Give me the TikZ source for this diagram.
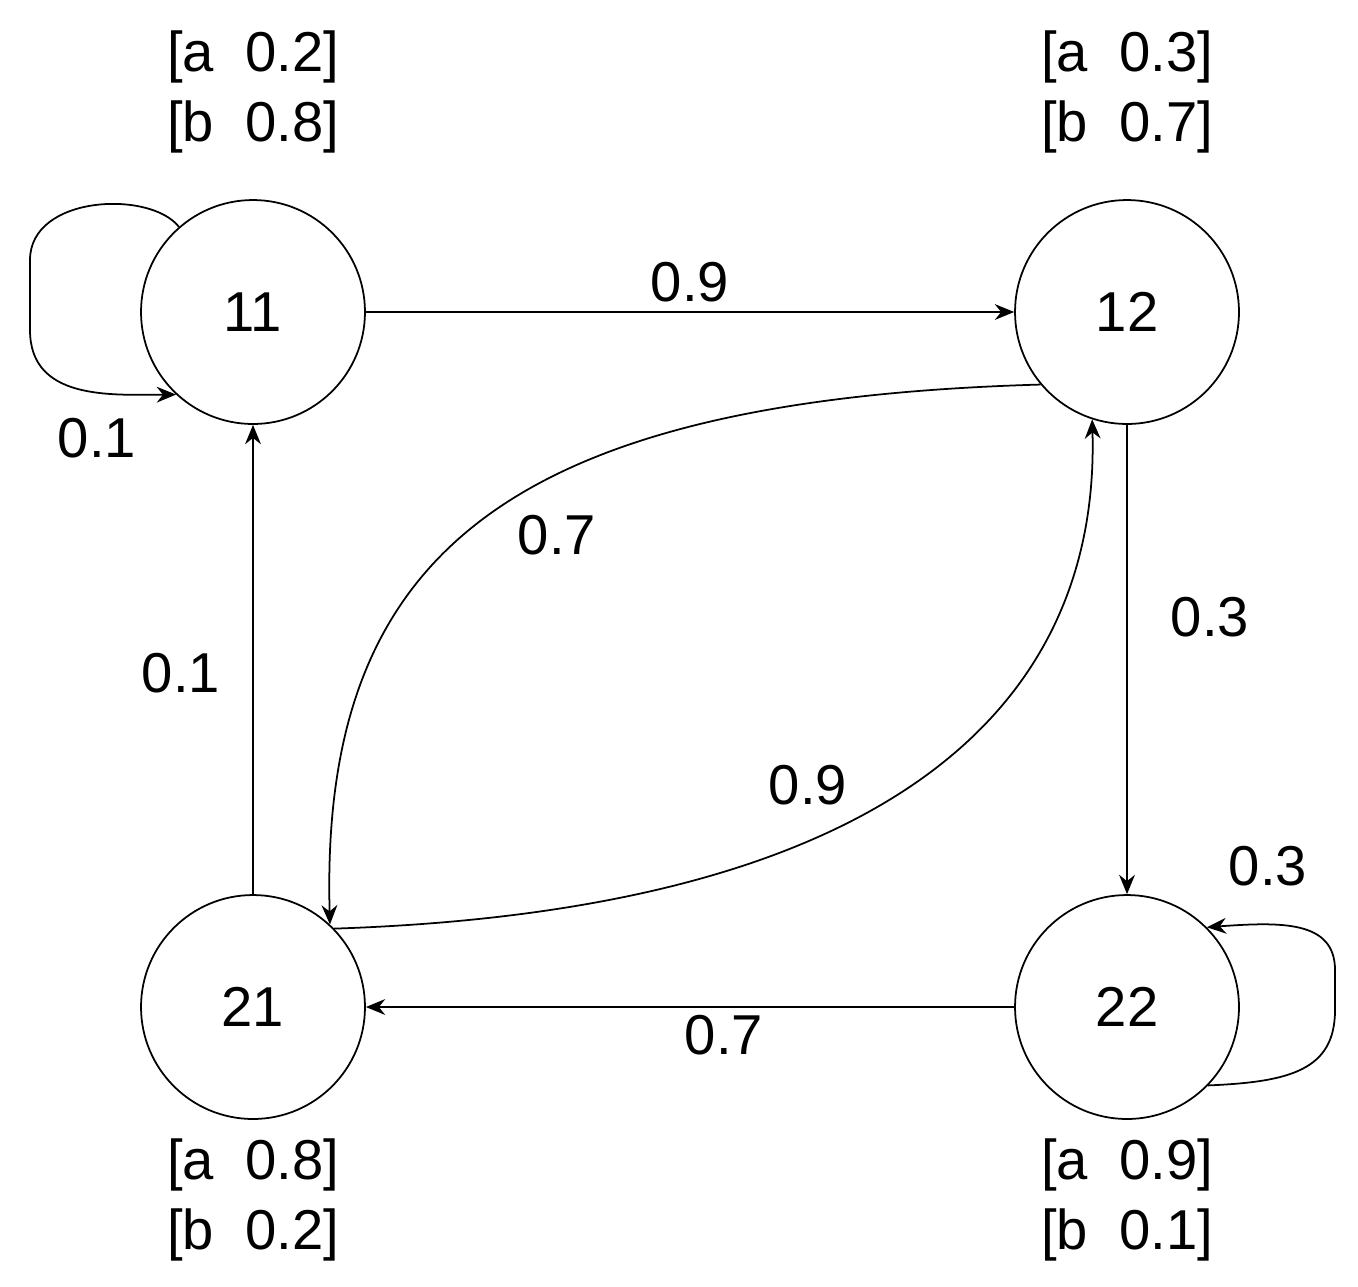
\documentclass[tikz,border=0pt]{standalone}
\usepackage{fontspec}
\setmainfont{Liberation Sans}
\usetikzlibrary{arrows.meta}
\begin{document}
\begin{tikzpicture}[x=0.02cm,y=-0.02cm,
  st/.style={circle,draw,line width=1pt,minimum size=4.48cm,inner sep=0pt,font=\fontsize{32}{36}\selectfont},
  lb/.style={font=\fontsize{32}{36}\selectfont},
  ar/.style={line width=1pt,-{Stealth[length=11pt,width=9pt]}}]
\useasboundingbox (0,0) rectangle (1358,1286);
\node[st] (n11) at (253,312) {11};
\node[st] (n12) at (1127,312) {12};
\node[st] (n21) at (253,1007) {21};
\node[st] (n22) at (1127,1007) {22};
\node[lb] (t11a) at (253,57) {[a\ \ 0.2]};
\node[lb] (t11b) at (253,127) {[b\ \ 0.8]};
\node[lb] (t12a) at (1127,57) {[a\ \ 0.3]};
\node[lb] (t12b) at (1127,127) {[b\ \ 0.7]};
\node[lb] (t21a) at (253,1165) {[a\ \ 0.8]};
\node[lb] (t21b) at (253,1235) {[b\ \ 0.2]};
\node[lb] (t22a) at (1127,1165) {[a\ \ 0.9]};
\node[lb] (t22b) at (1127,1235) {[b\ \ 0.1]};
\draw[ar] (n11) -- node[lb,above=2pt]{0.9} (n12);
\draw[ar] (n12) -- (n22);
\draw[ar] (n21) -- (n11);
\draw[ar] (n22) -- (n21);
\draw[ar] (n11.131) .. controls (150,190) and (30,195) .. (30,260) -- (30,330) .. controls (30,400) and (110,395) .. (n11.227);
\draw[ar] (n22.-44) .. controls (1290,1082) and (1335,1070) .. (1335,1010) -- (1335,970) .. controls (1335,920) and (1280,922) .. (n22.45);
\draw[ar] (n12.220) .. controls (500,400) and (320,560) .. (n21.47);
\draw[ar] (n21.44) .. controls (900,910) and (1100,700) .. (n12.252);
\node[lb] (l1) at (97,438) {0.1};
\node[lb] (l2) at (1268,866) {0.3};
\node[lb] (l3) at (557,535) {0.7};
\node[lb] (l4) at (808,785) {0.9};
\node[lb] (l5) at (1210,617) {0.3};
\node[lb] (l6) at (181,673) {0.1};
\node[lb] (l7) at (724,1035) {0.7};
\end{tikzpicture}
\end{document}
